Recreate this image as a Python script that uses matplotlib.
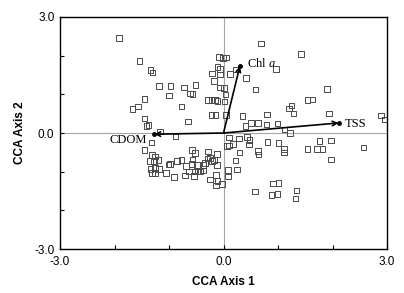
import matplotlib
matplotlib.use("Agg")
import matplotlib.pyplot as plt

plt.rcParams['font.family'] = ['Liberation Sans', 'DejaVu Sans']
plt.rcParams['mathtext.fontset'] = 'custom'
plt.rcParams['mathtext.rm'] = 'Liberation Serif'
plt.rcParams['mathtext.it'] = 'Liberation Serif:italic'

# sample scores (CCA axis 1, CCA axis 2)
site_x = [-1.92, -1.54, -1.34, -1.30, -1.18, -0.97, -1.00, -1.45, -1.57, -1.67,
          -1.45, -1.41, -1.38, -1.17, -0.72, -0.51, -0.61, -0.57, -0.77, -0.65,
          -0.28, -0.22, -0.16, -0.11, -0.22, -0.15, -0.08, -0.01, 0.05, -0.11,
          -0.06, -0.21, -0.06, 0.12, 0.23, 0.41, -0.17, -0.06, 0.01, 0.04,
          0.02, 0.05, 0.69, 0.59, 0.35, 0.80, 0.50, 0.63, 0.79, 0.40,
          0.99, 1.42, 0.96, 1.90, 1.54, 1.63, 1.25, 1.20, 1.28, 1.94,
          1.12, 1.22, 2.89, 2.95, -0.88, -1.32, -1.45, -1.31, -1.26, -1.35,
          -1.28, -1.19, -1.01, -1.34, -1.26, -1.18, -1.31, -1.26, -1.06, -0.91,
          -0.58, -0.52, -0.28, -0.12, -0.98, -0.85, -0.77, -0.69, -0.58, -0.57,
          -0.49, -0.37, -0.34, -0.29, -0.25, -0.21, -0.17, -0.12, -0.63, -0.52,
          -0.48, -0.43, -0.37, -0.71, -0.54, -0.25, -0.14, -0.11, -0.14, -0.03,
          0.10, 0.28, 0.43, 0.48, 0.06, 0.10, 0.17, 0.47, 0.81, 1.01,
          0.29, 0.63, 0.64, 0.22, 0.08, 0.25, 0.08, 0.91, 1.01, 0.58,
          0.88, 0.99, 1.11, 1.11, 1.54, 1.72, 1.82, 1.76, 1.97, 1.97,
          2.57, 1.34, 1.32]
site_y = [2.46, 1.86, 1.63, 1.57, 1.22, 1.22, 0.97, 0.88, 0.69, 0.62,
          0.38, 0.18, 0.21, 0.04, 1.18, 1.24, 1.02, 1.01, 0.69, 0.30,
          0.85, 0.85, 0.85, 0.83, 0.46, 0.46, 1.96, 1.94, 1.95, 1.71,
          1.66, 1.54, 1.51, 1.53, 1.64, 1.42, 1.34, 1.18, 1.16, 1.00,
          0.82, 0.46, 2.32, 1.12, 0.44, 0.48, 0.26, 0.26, 0.22, 0.18,
          0.25, 2.04, 1.65, 1.14, 0.85, 0.87, 0.71, 0.63, 0.50, 0.50,
          0.09, 0.00, 0.45, 0.35, -0.09, -0.25, -0.44, -0.57, -0.61, -0.72,
          -0.72, -0.70, -0.81, -0.93, -0.91, -0.93, -1.03, -1.03, -1.03, -1.13,
          -0.44, -0.52, -0.48, -0.54, -0.80, -0.72, -0.70, -0.85, -0.80, -0.68,
          -0.83, -0.83, -0.78, -0.66, -0.65, -0.72, -0.70, -0.83, -1.00, -1.00,
          -0.98, -1.00, -0.97, -1.10, -1.11, -1.20, -1.09, -1.24, -1.36, -1.32,
          -0.12, -0.14, -0.10, -0.18, -0.34, -0.32, -0.28, -0.30, -0.23, -0.26,
          -0.50, -0.47, -0.55, -0.71, -0.95, -0.94, -1.12, -1.31, -1.29, -1.51,
          -1.60, -1.57, -0.42, -0.50, -0.42, -0.41, -0.41, -0.20, -0.19, -0.69,
          -0.38, -1.49, -1.69]

# environmental variable vectors
env_names = ['TSS', 'Chl $a$', 'CDOM']
env_x = [2.11, 0.30, -1.27]
env_y = [0.26, 1.73, -0.03]
label_x = [2.23, 0.43, -1.75]
label_y = [0.24, 1.81, -0.18]
label_ha = ['left', 'left', 'center']

fig = plt.figure(figsize=(4.04, 2.93), dpi=100)
ax = fig.add_axes([0.1485, 0.150, 0.8095, 0.792])

ax.axhline(0, color='#a6a6a6', lw=0.8, zorder=0)
ax.axvline(0, color='#a6a6a6', lw=0.8, zorder=0)

ax.scatter(site_x, site_y, marker='s', s=16, facecolors='none',
           edgecolors='#4a4a4a', linewidths=0.7, zorder=2)

for name, ex, ey, lx, ly, ha in zip(env_names, env_x, env_y, label_x, label_y, label_ha):
    ax.annotate('', xy=(ex, ey), xytext=(0, 0),
                arrowprops=dict(arrowstyle='->', color='black', lw=1.2,
                                shrinkA=0, shrinkB=0, mutation_scale=8),
                zorder=3)
    ax.plot([ex], [ey], 'o', color='black', ms=2.5, zorder=4)
    ax.text(lx, ly, name, ha=ha, va='center', fontsize=9,
            family='Liberation Serif', zorder=5)

ax.set_xlim(-3, 3)
ax.set_ylim(-3, 3)
ax.set_xticks([-3, -2, -1, 0, 1, 2, 3])
ax.set_yticks([-3, -2, -1, 0, 1, 2, 3])
ax.set_xticklabels(['-3.0', '', '', '0.0', '', '', '3.0'])
ax.set_yticklabels(['-3.0', '', '', '0.0', '', '', '3.0'])
ax.tick_params(direction='in', length=3, width=0.8, labelsize=8.5)
ax.tick_params(axis='x', pad=5)
ax.tick_params(axis='y', pad=4)

for sp in ax.spines.values():
    sp.set_linewidth(1.0)

ax.set_xlabel('CCA Axis 1', fontsize=8.5, fontweight='bold', labelpad=6)
ax.set_ylabel('CCA Axis 2', fontsize=8.5, fontweight='bold', labelpad=6)

fig.savefig('out.png', dpi=100)
